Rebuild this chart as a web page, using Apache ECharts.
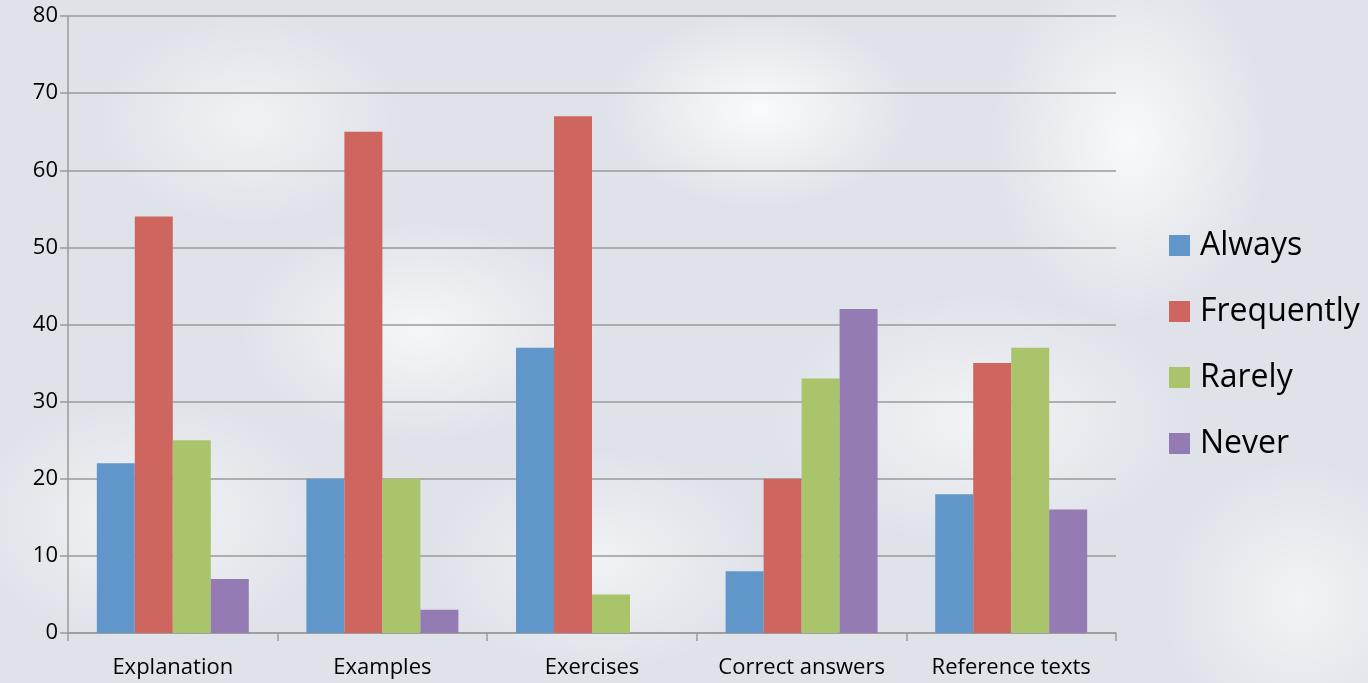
<!DOCTYPE html>
<html>
<head>
<meta charset="utf-8">
<script src="https://cdn.jsdelivr.net/npm/echarts@6/dist/echarts.min.js"></script>
<style>
  html, body { margin: 0; padding: 0; width: 1368px; height: 683px; overflow: hidden; }
  body {
    background:
      radial-gradient(ellipse 220px 140px at 760px 110px, rgba(255,255,255,0.85), rgba(255,255,255,0) 70%),
      radial-gradient(ellipse 260px 160px at 420px 330px, rgba(255,255,255,0.7), rgba(255,255,255,0) 70%),
      radial-gradient(ellipse 200px 260px at 1130px 140px, rgba(255,255,255,0.8), rgba(255,255,255,0) 70%),
      radial-gradient(ellipse 300px 180px at 980px 420px, rgba(255,255,255,0.6), rgba(255,255,255,0) 70%),
      radial-gradient(ellipse 260px 180px at 150px 520px, rgba(255,255,255,0.6), rgba(255,255,255,0) 70%),
      radial-gradient(ellipse 240px 160px at 600px 560px, rgba(255,255,255,0.55), rgba(255,255,255,0) 70%),
      radial-gradient(ellipse 200px 200px at 1300px 600px, rgba(255,255,255,0.6), rgba(255,255,255,0) 70%),
      radial-gradient(ellipse 220px 150px at 250px 120px, rgba(255,255,255,0.55), rgba(255,255,255,0) 70%),
      #dfe2e9;
  }
  #chart { width: 1368px; height: 683px; }
</style>
</head>
<body>
<div id="chart"></div>
<script>
  const categories = ['Explanation', 'Examples', 'Exercises', 'Correct answers', 'Reference texts'];
  const seriesNames = ['Always', 'Frequently', 'Rarely', 'Never'];
  const always     = [22, 20, 37, 8, 18];
  const frequently = [54, 65, 67, 20, 35];
  const rarely     = [25, 20, 5, 33, 37];
  const never      = [7, 3, 0, 42, 16];
  const yTicks = [0, 10, 20, 30, 40, 50, 60, 70, 80];

  const colors = ['#6096C9', '#CE665F', '#AAC46B', '#957BB3'];
  const values = [always, frequently, rarely, never];
  const axisGray = '#9a9a9a';
  const font = '"Open Sans", sans-serif';

  const chart = echarts.init(document.getElementById('chart'), null, { renderer: 'canvas' });
  chart.setOption({
    backgroundColor: 'transparent',
    animation: false,
    color: colors,
    grid: { left: 68, right: 252, top: 16, bottom: 50, containLabel: false },
    legend: {
      orient: 'vertical',
      left: 1169,
      top: 228,
      padding: 0,
      itemWidth: 21,
      itemHeight: 21,
      itemGap: 31,
      icon: 'rect',
      textStyle: { fontSize: 32, lineHeight: 35, color: '#000', fontFamily: font, padding: [0, 0, 0, 5] },
      data: seriesNames
    },
    xAxis: {
      type: 'category',
      data: categories,
      axisLine: { lineStyle: { color: axisGray, width: 1.5 } },
      axisTick: { show: true, interval: 0, length: 8, lineStyle: { color: axisGray, width: 1.5 } },
      axisLabel: { interval: 0, fontSize: 22, color: '#000', fontFamily: font, margin: 24 }
    },
    yAxis: {
      type: 'value',
      min: yTicks[0],
      max: yTicks[yTicks.length - 1],
      interval: 10,
      axisLine: { show: true, lineStyle: { color: axisGray, width: 1.5 } },
      axisTick: { show: true, length: 8, lineStyle: { color: axisGray, width: 1.5 } },
      splitLine: { lineStyle: { color: axisGray, width: 1.5 } },
      axisLabel: { fontSize: 22, color: '#000', fontFamily: font, margin: 10 }
    },
    series: seriesNames.map((name, i) => ({
      name,
      type: 'bar',
      data: values[i],
      barGap: '0%',
      barCategoryGap: '27.5%',
      itemStyle: { color: colors[i] }
    }))
  });
</script>
</body>
</html>
